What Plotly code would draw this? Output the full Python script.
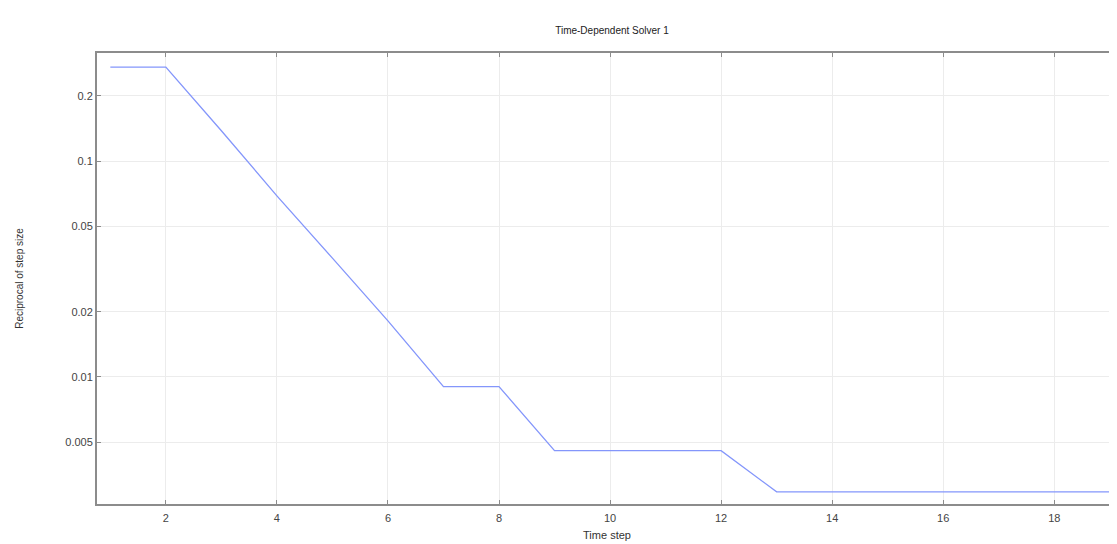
import plotly.graph_objects as go

time_step = [1, 2, 3, 4, 5, 6, 7, 8, 9, 10, 11, 12, 13, 14, 15, 16, 17, 18, 19]
recip_step = [0.272, 0.272, 0.138, 0.0690, 0.0355, 0.0182, 0.00902, 0.00902,
              0.00456, 0.00456, 0.00456, 0.00456, 0.00294, 0.00294, 0.00294,
              0.00294, 0.00294, 0.00294, 0.00294]
y_ticks = [0.005, 0.01, 0.02, 0.05, 0.1, 0.2]
y_tick_labels = ["0.005", "0.01", "0.02", "0.05", "0.1", "0.2"]
x_ticks = [2, 4, 6, 8, 10, 12, 14, 16, 18]

fig = go.Figure()
fig.add_trace(go.Scatter(x=time_step, y=recip_step, mode="lines",
                         line=dict(color="#8496fb", width=1.3), showlegend=False))

font = "Liberation Sans, Arial, sans-serif"
axis_common = dict(showline=True, linecolor="#8c8c8c", linewidth=2,
                   ticks="inside", ticklen=4, tickcolor="#8c8c8c",
                   showgrid=True, gridcolor="#ececec", gridwidth=1,
                   zeroline=False, tickfont=dict(family=font, size=11, color="#444"))

fig.update_layout(
    width=1109, height=536,
    paper_bgcolor="white", plot_bgcolor="white",
    margin=dict(l=89, r=0, t=45, b=40),
    title=dict(text="Time-Dependent Solver 1", x=0.5446, xanchor="center",
               y=0.958, yanchor="middle",
               font=dict(family=font, size=10, color="#222")),
    xaxis=dict(range=[0.76, 19.13], tickvals=x_ticks, ticklabelstandoff=3, mirror="ticks",
               title=dict(text="Time step", font=dict(family=font, size=11, color="#333"),
                          standoff=8),
               **axis_common),
    yaxis=dict(type="log", range=[-2.588, -0.500], tickvals=y_ticks, ticktext=y_tick_labels,
               mirror=False,
               title=dict(text="Reciprocal of step size",
                          font=dict(family=font, size=10, color="#333"), standoff=40),
               **axis_common),
)

fig.write_html("out.html")
